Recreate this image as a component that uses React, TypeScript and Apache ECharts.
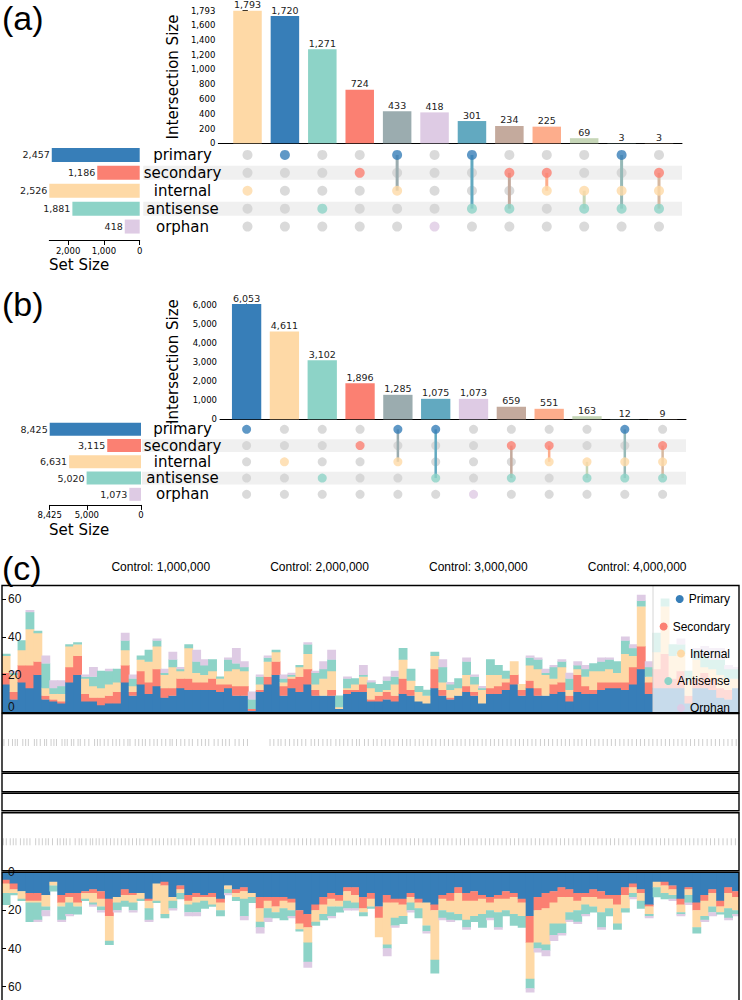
import React, { useEffect, useRef } from "react";
import * as echarts from "echarts";

// ---------- shared ----------
const SETS = ["primary", "secondary", "internal", "antisense", "orphan"];
const LEGEND_NAMES = ["Primary", "Secondary", "Internal", "Antisense", "Orphan"];
const SET_COLORS = ["#377eb8", "#fb8072", "#fed9a6", "#8dd3c7", "#decbe4"];

// ---------- panel (a) ----------
const A_SET_SIZES = [2457, 1186, 2526, 1881, 418];
const A_COMBOS = [[2], [0], [3], [1], [0, 2], [4], [0, 3], [1, 3], [1, 2], [2, 3], [0, 2, 3], [1, 2, 3]];
const A_COUNTS = [1793, 1720, 1271, 724, 433, 418, 301, 234, 225, 69, 3, 3];

// ---------- panel (b) ----------
const B_SET_SIZES = [8425, 3115, 6631, 5020, 1073];
const B_COMBOS = [[0], [2], [3], [1], [0, 2], [0, 3], [4], [1, 3], [1, 2], [2, 3], [0, 2, 3], [1, 2, 3]];
const B_COUNTS = [6053, 4611, 3102, 1896, 1285, 1075, 1073, 659, 551, 163, 12, 9];

// ---------- panel (c) ----------
const GENOME_LENGTH = 4641652;
const BIN_SIZE = 50000;
// top histogram (Primary, Secondary, Internal, Antisense, Orphan) per 50 kb bin
const TOP_PRIMARY = [15, 7, 16, 13, 20, 7, 6, 5, 16, 20, 6, 6, 4, 5, 5, 16, 9, 15, 10, 14, 8, 9, 13, 12, 12, 12, 12, 11, 13, 9, 9,
  1, 11, 15, 20, 9, 13, 11, 15, 9, 9, 9, 2, 10, 11, 11, 6, 6, 7, 6, 10, 9, 6, 5, 13, 9, 7, 9, 11, 9, 5, 10,
  10, 12, 15, 9, 13, 9, 9, 10, 11, 6, 11, 10, 10, 12, 13, 13, 12, 15, 23, 10, 13, 13, 13, 13, 5, 13, 13, 12, 8, 7, 13];
const TOP_SECONDARY = [6, 4, 9, 12, 7, 2, 1, 1, 8, 10, 4, 2, 4, 4, 6, 9, 2, 7, 6, 9, 5, 4, 5, 6, 4, 4, 6, 4, 2, 5, 5,
  1, 1, 4, 7, 5, 5, 8, 8, 3, 0, 3, 0, 2, 1, 4, 1, 3, 4, 3, 8, 3, 0, 0, 10, 3, 1, 0, 3, 2, 0, 3,
  4, 4, 5, 3, 4, 4, 0, 5, 5, 3, 9, 4, 2, 4, 3, 3, 4, 9, 12, 6, 10, 18, 5, 9, 4, 5, 8, 6, 5, 5, 0];
const TOP_INTERNAL = [9, 9, 8, 19, 15, 4, 3, 4, 11, 6, 8, 6, 5, 6, 5, 8, 3, 6, 11, 12, 7, 11, 4, 16, 5, 4, 4, 3, 7, 9, 8,
  0, 3, 8, 5, 2, 1, 5, 8, 3, 9, 10, 1, 1, 3, 4, 6, 2, 1, 6, 10, 5, 5, 4, 7, 4, 4, 4, 6, 4, 7, 7,
  6, 2, 7, 3, 8, 10, 11, 3, 8, 3, 3, 5, 10, 6, 7, 5, 15, 6, 21, 3, 9, 25, 12, 9, 8, 10, 3, 5, 7, 6, 5];
const TOP_ANTISENSE = [1, 1, 5, 9, 1, 13, 3, 4, 1, 1, 1, 5, 9, 7, 7, 5, 4, 2, 6, 3, 1, 4, 1, 2, 6, 5, 6, 1, 6, 3, 2,
  5, 4, 2, 1, 2, 1, 1, 5, 6, 5, 6, 6, 5, 3, 1, 3, 4, 5, 4, 6, 6, 3, 3, 2, 8, 3, 5, 7, 4, 1, 8,
  5, 4, 0, 0, 4, 5, 1, 6, 3, 6, 2, 4, 4, 5, 5, 6, 7, 4, 3, 5, 10, 4, 6, 5, 5, 5, 6, 5, 8, 5, 5];
const TOP_ORPHAN = [0, 1, 0, 1, 0, 4, 4, 3, 0, 0, 1, 5, 0, 1, 0, 4, 2, 0, 0, 1, 2, 4, 1, 0, 6, 3, 0, 0, 1, 8, 3,
  4, 1, 1, 0, 2, 1, 0, 1, 1, 4, 5, 0, 1, 0, 5, 1, 0, 2, 3, 0, 0, 0, 0, 0, 4, 1, 0, 2, 1, 1, 0,
  0, 0, 0, 0, 1, 1, 2, 1, 1, 3, 2, 2, 0, 2, 1, 0, 2, 2, 3, 3, 0, 0, 0, 3, 0, 1, 5, 6, 6, 2, 1];
// bottom histogram (drawn downwards)
const BOT_PRIMARY = [4, 6, 10, 11, 11, 12, 5, 12, 11, 11, 10, 9, 10, 14, 13, 9, 11, 11, 14, 6, 5, 13, 7, 12, 11, 12, 11, 14, 7, 9, 8,
  11, 13, 13, 13, 13, 14, 20, 22, 17, 13, 11, 12, 8, 8, 13, 11, 18, 12, 14, 14, 11, 14, 16, 17, 12, 11, 8, 11, 10, 12, 13,
  12, 10, 11, 14, 23, 13, 11, 10, 8, 9, 11, 11, 9, 10, 12, 12, 8, 6, 9, 17, 5, 5, 7, 14, 8, 16, 12, 9, 15, 8, 10];
const BOT_SECONDARY = [2, 3, 0, 4, 4, 0, 0, 4, 2, 5, 1, 2, 4, 9, 0, 3, 1, 0, 1, 0, 2, 0, 2, 3, 2, 1, 2, 2, 0, 2, 2,
  0, 6, 2, 5, 2, 2, 7, 7, 3, 4, 3, 3, 2, 4, 6, 3, 6, 4, 2, 3, 2, 2, 0, 3, 2, 4, 3, 4, 5, 2, 3,
  2, 4, 2, 2, 14, 7, 8, 6, 5, 4, 4, 2, 4, 4, 2, 5, 4, 2, 2, 1, 0, 2, 2, 3, 1, 4, 3, 2, 3, 3, 3];
const BOT_INTERNAL = [5, 2, 4, 1, 1, 6, 2, 2, 3, 2, 3, 5, 4, 13, 3, 3, 4, 3, 4, 9, 15, 2, 2, 2, 3, 2, 4, 4, 2, 2, 4,
  2, 7, 4, 3, 4, 4, 3, 8, 6, 5, 4, 3, 5, 4, 2, 4, 10, 22, 8, 6, 3, 3, 12, 26, 6, 6, 11, 10, 8, 8, 4,
  7, 6, 9, 7, 19, 17, 19, 11, 14, 8, 5, 4, 5, 7, 5, 10, 7, 3, 4, 4, 3, 4, 3, 4, 3, 9, 8, 7, 3, 8, 7];
const BOT_ANTISENSE = [6, 1, 1, 10, 9, 2, 3, 7, 6, 4, 1, 1, 2, 2, 4, 3, 4, 1, 6, 1, 2, 4, 3, 4, 5, 4, 1, 3, 2, 2, 9,
  3, 3, 5, 3, 6, 3, 1, 10, 2, 3, 5, 3, 4, 3, 2, 1, 0, 2, 4, 4, 4, 5, 3, 7, 4, 4, 3, 4, 3, 7, 4,
  8, 3, 6, 6, 5, 3, 3, 6, 5, 4, 6, 5, 3, 8, 4, 3, 2, 2, 4, 1, 5, 3, 2, 1, 4, 3, 2, 3, 1, 5, 2];
const BOT_ORPHAN = [0, 0, 0, 0, 1, 3, 0, 1, 1, 0, 0, 1, 1, 0, 1, 0, 1, 0, 1, 0, 0, 1, 0, 2, 2, 0, 0, 0, 1, 0, 2,
  0, 3, 2, 0, 0, 1, 0, 3, 0, 0, 1, 0, 1, 1, 0, 0, 0, 4, 1, 0, 1, 0, 1, 0, 1, 1, 0, 1, 0, 0, 1,
  1, 0, 0, 0, 2, 2, 3, 3, 1, 1, 1, 1, 0, 1, 0, 0, 0, 1, 0, 1, 0, 0, 1, 1, 1, 0, 1, 2, 0, 1, 1];
// gene marks in the two annotation tracks (kb)
const TRACK1_GENES = [12, 41, 66, 83, 97, 131, 149, 166, 204, 219, 241, 268, 281, 309, 327, 343, 378, 396, 411, 437, 452, 479, 493,
  521, 547, 583, 601, 618, 644, 668, 697, 719, 741, 768, 793, 806, 839, 861, 884, 903, 931, 957, 978, 1006, 1031, 1058, 1072,
  1099, 1126, 1151, 1178, 1199, 1233, 1257, 1281, 1302, 1336, 1361, 1388, 1409, 1432, 1468, 1493, 1521, 1546, 1688, 1712,
  1739, 1757, 1784, 1811, 1839, 1862, 1888, 1913, 1947, 1969, 1993, 2021, 2048, 2071, 2103, 2127, 2152, 2178, 2206, 2233,
  2251, 2283, 2307, 2339, 2362, 2391, 2414, 2442, 2468, 2497, 2522, 2549, 2571, 2602, 2628, 2653, 2681, 2707, 2732, 2761,
  2786, 2812, 2839, 2866, 2891, 2917, 2946, 2971, 2997, 3024, 3048, 3077, 3101, 3128, 3153, 3181, 3206, 3233, 3259, 3284,
  3311, 3338, 3362, 3391, 3417, 3442, 3468, 3497, 3523, 3548, 3574, 3603, 3628, 3652, 3681, 3707, 3734, 3759, 3786, 3812,
  3838, 3863, 3891, 3917, 3944, 3968, 3996, 4021, 4047, 4074, 4099, 4126, 4152, 4178, 4204, 4231, 4257, 4283, 4309, 4336,
  4362, 4388, 4413, 4441, 4467, 4493, 4519, 4546, 4572, 4598, 4624];
const TRACK4_GENES = [8, 27, 52, 71, 88, 116, 138, 157, 176, 212, 233, 254, 276, 292, 318, 349, 366, 388, 405, 428, 461, 486, 502,
  529, 556, 571, 593, 612, 636, 659, 683, 706, 729, 752, 776, 799, 822, 847, 868, 893, 918, 946, 968, 991, 1017, 1044, 1066,
  1089, 1113, 1139, 1164, 1188, 1212, 1241, 1266, 1292, 1318, 1343, 1371, 1396, 1422, 1447, 1473, 1499, 1528, 1553, 1579,
  1604, 1631, 1657, 1682, 1707, 1733, 1762, 1788, 1813, 1841, 1866, 1893, 1918, 1944, 1971, 1997, 2023, 2049, 2076, 2101,
  2128, 2154, 2181, 2207, 2232, 2258, 2286, 2311, 2337, 2363, 2389, 2416, 2441, 2468, 2494, 2519, 2546, 2572, 2598, 2624,
  2651, 2677, 2703, 2729, 2756, 2782, 2808, 2834, 2861, 2887, 2913, 2939, 2966, 2992, 3018, 3044, 3071, 3097, 3123, 3149,
  3176, 3202, 3228, 3254, 3281, 3307, 3333, 3359, 3386, 3412, 3438, 3464, 3491, 3517, 3543, 3569, 3596, 3622, 3648, 3674,
  3701, 3727, 3753, 3779, 3806, 3832, 3858, 3884, 3911, 3937, 3963, 3989, 4016, 4042, 4068, 4094, 4121, 4147, 4173, 4199,
  4226, 4252, 4278, 4304, 4331, 4357, 4383, 4409, 4436, 4462, 4488, 4514, 4541, 4567, 4593, 4619];

// ---------- helpers ----------
const fmt = (v: number) => Math.round(v).toLocaleString("en-US");
function hexToRgb(h: string) {
  const n = parseInt(h.slice(1), 16);
  return [(n >> 16) & 255, (n >> 8) & 255, n & 255];
}
function mix(idx: number[]) {
  const cs = idx.map((i) => hexToRgb(SET_COLORS[i]));
  const avg = [0, 1, 2].map((k) => Math.round(cs.reduce((s, c) => s + c[k], 0) / cs.length));
  return "#" + avg.map((v) => v.toString(16).padStart(2, "0")).join("");
}

const UPSET_FONT = "DejaVu Sans";
const C_FONT = "Liberation Sans";

type UpsetLayout = {
  barTop: number; barBottom: number; axisX: number; right: number; firstCenter: number; step: number;
  barWidth: number; matLeft: number; matTop: number; matHeight: number; setLeft: number; setRight: number;
  setBarH: number; setAxisOffset: number; dot: number; lineW: number; bandH: number; nameGap: number;
  yInterval: number; showMax: boolean; setInterval: number; setShowMax: boolean;
};

function buildUpset(
  L: UpsetLayout, counts: number[], combos: number[][], setSizes: number[], gi: number
) {
  const grids = [
    { left: L.axisX, top: L.barTop, width: L.right - L.axisX, height: L.barBottom - L.barTop },
    { left: L.matLeft, top: L.matTop, width: L.right - L.matLeft, height: L.matHeight },
    { left: L.setLeft, top: L.matTop, width: L.setRight - L.setLeft, height: L.matHeight },
  ];
  const toIdx = (x: number) => (x - L.firstCenter) / L.step;
  const maxCount = Math.max(...counts);
  const maxSet = Math.max(...setSizes);
  const axisLabelStyle = { fontFamily: UPSET_FONT, fontSize: 8.5, color: "#000" };
  const xAxes = [
    {
      gridIndex: gi, type: "value", min: toIdx(L.axisX), max: toIdx(L.right),
      axisLine: { show: true, lineStyle: { color: "#000", width: 1 } },
      axisTick: { show: false }, axisLabel: { show: false }, splitLine: { show: false },
    },
    { gridIndex: gi + 1, type: "value", min: toIdx(L.matLeft), max: toIdx(L.right), show: false },
    {
      gridIndex: gi + 2, type: "value", inverse: true, min: 0, max: maxSet, interval: L.setInterval,
      offset: L.setAxisOffset,
      axisLine: { show: true, lineStyle: { color: "#000" } },
      axisTick: { show: true, length: 5, lineStyle: { color: "#000" } },
      axisLabel: { ...axisLabelStyle, margin: 6, showMaxLabel: L.setShowMax, formatter: (v: number) => fmt(v) },
      splitLine: { show: false },
    },
  ];
  const yAxes = [
    {
      gridIndex: gi, type: "value", min: 0, max: maxCount, interval: L.yInterval,
      name: "Intersection Size", nameLocation: "middle", nameRotate: 90, nameGap: L.nameGap,
      nameTextStyle: { fontFamily: UPSET_FONT, fontSize: 15, color: "#000" },
      axisLine: { show: true, lineStyle: { color: "#000" } },
      axisTick: { show: true, length: 5, lineStyle: { color: "#000" } },
      axisLabel: { ...axisLabelStyle, margin: 3, showMaxLabel: L.showMax, formatter: (v: number) => fmt(v) },
      splitLine: { show: false },
    },
    {
      gridIndex: gi + 1, type: "category", inverse: true, data: SETS, z: 6,
      axisLine: { show: false }, axisTick: { show: false }, splitLine: { show: false },
      axisLabel: {
        inside: true, align: "center", margin: 182.5 - L.matLeft, interval: 0, hideOverlap: false,
        fontFamily: UPSET_FONT, fontSize: 15, color: "#000",
      },
    },
    { gridIndex: gi + 2, type: "category", inverse: true, data: SETS, show: false },
  ];
  const comboColors = combos.map((c) => mix(c));
  const grayDots: number[][] = [];
  const activeDots: any[] = [];
  const lines: number[][] = [];
  combos.forEach((c, i) => {
    SETS.forEach((_, j) => {
      if (c.includes(j)) activeDots.push({ value: [i, j], itemStyle: { color: SET_COLORS[j] } });
      else grayDots.push([i, j]);
    });
    if (c.length > 1) lines.push([i, Math.min(...c), Math.max(...c)]);
  });
  const lineColors = lines.map((l) => comboColors[l[0]]);
  const series = [
    {
      type: "bar", xAxisIndex: gi, yAxisIndex: gi,
      barWidth: L.barWidth,
      data: counts.map((v, i) => ({ value: [i, v], itemStyle: { color: comboColors[i] } })),
      label: {
        show: true, position: "top", distance: 1, fontFamily: UPSET_FONT, fontSize: 9.5, color: "#222",
        formatter: (p: any) => fmt(p.value[1]),
      },
    },
    {
      type: "scatter", xAxisIndex: gi + 1, yAxisIndex: gi + 1, z: 2,
      symbolSize: L.dot, itemStyle: { color: "#d1d1d1" }, data: grayDots,
    },
    {
      type: "custom", xAxisIndex: gi + 1, yAxisIndex: gi + 1, z: 3,
      data: lines,
      renderItem: (params: any, api: any) => {
        const p1 = api.coord([api.value(0), api.value(1)]);
        const p2 = api.coord([api.value(0), api.value(2)]);
        return {
          type: "line",
          shape: { x1: p1[0], y1: p1[1], x2: p2[0], y2: p2[1] },
          style: { stroke: lineColors[params.dataIndex], lineWidth: L.lineW },
        };
      },
    },
    {
      type: "scatter", xAxisIndex: gi + 1, yAxisIndex: gi + 1, z: 4,
      symbolSize: L.dot, data: activeDots,
    },
    {
      type: "bar", xAxisIndex: gi + 2, yAxisIndex: gi + 2, barWidth: L.setBarH,
      data: setSizes.map((v, j) => ({ value: v, itemStyle: { color: SET_COLORS[j] } })),
      label: {
        show: true, position: "left", distance: 2, fontFamily: UPSET_FONT, fontSize: 9.5, color: "#222",
        formatter: (p: any) => fmt(p.value),
      },
    },
  ];
  // shaded rows (secondary, antisense)
  const rowH = L.matHeight / SETS.length;
  const bands = [1, 3].map((j) => ({
    type: "rect", z: -10,
    shape: { x: L.matLeft, y: L.matTop + rowH * (j + 0.5) - L.bandH / 2, width: L.right - L.matLeft, height: L.bandH },
    style: { fill: "#f0f0f0" },
  }));
  return { grids, xAxes, yAxes, series, bands };
}

const A_LAYOUT: UpsetLayout = {
  barTop: 10.7, barBottom: 143.3, axisX: 218.3, right: 682, firstCenter: 247.5, step: 37.41, barWidth: 28.5,
  matLeft: 143.3, matTop: 146, matHeight: 89.5, setLeft: 49.3, setRight: 139.7, setBarH: 14, setAxisOffset: 4.5,
  dot: 10, lineW: 3, bandH: 14, nameGap: 35, yInterval: 200, showMax: true, setInterval: 1000, setShowMax: false,
};
const B_LAYOUT: UpsetLayout = {
  barTop: 304, barBottom: 419.3, axisX: 220, right: 686, firstCenter: 246.6, step: 37.82, barWidth: 29.3,
  matLeft: 142, matTop: 421.2, matHeight: 81.25, setLeft: 49.7, setRight: 141, setBarH: 13, setAxisOffset: 2.5,
  dot: 9, lineW: 2.5, bandH: 12.7, nameGap: 40, yInterval: 1000, showMax: false, setInterval: 5000, setShowMax: true,
};

const C_LEFT = 2;
const C_WIDTH = 737;
const C_TOP = { top: 585.5, bottom: 712.7 };
const C_TRACKS = [
  { top: 713.5, bottom: 771.7 },
  { top: 773.3, bottom: 791.7 },
  { top: 793.3, bottom: 810.7 },
  { top: 812.7, bottom: 870.7 },
];
const C_BOT = { top: 872.3, bottom: 1004 };

function buildOption() {
  const a = buildUpset(A_LAYOUT, A_COUNTS, A_COMBOS, A_SET_SIZES, 0);
  const b = buildUpset(B_LAYOUT, B_COUNTS, B_COMBOS, B_SET_SIZES, 3);

  const cGrids = [
    { left: C_LEFT, top: C_TOP.top, width: C_WIDTH, height: C_TOP.bottom - C_TOP.top },
    { left: C_LEFT, top: C_TRACKS[0].top, width: C_WIDTH, height: C_TRACKS[0].bottom - C_TRACKS[0].top },
    { left: C_LEFT, top: C_TRACKS[3].top, width: C_WIDTH, height: C_TRACKS[3].bottom - C_TRACKS[3].top },
    { left: C_LEFT, top: C_BOT.top, width: C_WIDTH, height: C_BOT.bottom - C_BOT.top },
  ];
  const hiddenX = (gridIndex: number) => ({ gridIndex, type: "value", min: 0, max: GENOME_LENGTH, show: false });
  const cX = [
    {
      gridIndex: 6, type: "value", position: "top", min: 0, max: GENOME_LENGTH, interval: 1000000,
      axisLine: { show: false },
      axisTick: { show: true, length: 7, lineStyle: { color: "#000" } },
      axisLabel: {
        margin: 13, fontFamily: C_FONT, fontSize: 12, color: "#000", showMinLabel: false, showMaxLabel: false,
        formatter: (v: number) => (v === 0 ? "" : "Control: " + fmt(v)),
      },
      splitLine: { show: false },
    },
    hiddenX(7), hiddenX(8), hiddenX(9),
  ];
  const yHist = (gridIndex: number, inverse: boolean) => ({
    gridIndex, type: "value", min: 0, max: 67, interval: 20, inverse, z: 5,
    axisLine: { show: false },
    axisTick: { show: true, inside: true, length: 4, lineStyle: { color: "#000" } },
    axisLabel: {
      inside: true, margin: 6, fontFamily: C_FONT, fontSize: 12, color: "#111", showMaxLabel: false,
      // the top panel's zero label sits just above the baseline
      formatter: (v: number) => (v === 0 && !inverse ? "{z|0}" : "{n|" + v + "}"),
      rich: {
        z: { fontFamily: C_FONT, fontSize: 12, color: "#111", padding: [0, 0, 11, 0] },
        n: { fontFamily: C_FONT, fontSize: 12, color: "#111" },
      },
    },
    splitLine: { show: false },
  });
  const cY = [
    yHist(6, false),
    { gridIndex: 7, type: "value", min: 0, max: 1, show: false },
    { gridIndex: 8, type: "value", min: 0, max: 1, show: false },
    yHist(9, true),
  ];
  const topSets = [TOP_PRIMARY, TOP_SECONDARY, TOP_INTERNAL, TOP_ANTISENSE, TOP_ORPHAN];
  const botSets = [BOT_PRIMARY, BOT_SECONDARY, BOT_INTERNAL, BOT_ANTISENSE, BOT_ORPHAN];
  // stacked histogram drawn through the axes' scales (custom series)
  const histSeries = (arrs: number[][], xi: number) => {
    const rows: number[][] = [];
    for (let k = 0; k < arrs[0].length; k++) {
      let base = 0;
      for (let j = 0; j < arrs.length; j++) {
        const v = arrs[j][k];
        if (v > 0) rows.push([k * BIN_SIZE, Math.min((k + 1) * BIN_SIZE, GENOME_LENGTH), base, base + v, j]);
        base += v;
      }
    }
    return {
      type: "custom", xAxisIndex: xi, yAxisIndex: xi, clip: true, z: 2,
      encode: { x: [0, 1], y: [2, 3] },
      data: rows,
      renderItem: (_params: any, api: any) => {
        const p1 = api.coord([api.value(0), api.value(2)]);
        const p2 = api.coord([api.value(1), api.value(3)]);
        return {
          type: "rect",
          shape: {
            x: Math.min(p1[0], p2[0]) - 0.3, y: Math.min(p1[1], p2[1]) - 0.2,
            width: Math.abs(p2[0] - p1[0]) + 0.9, height: Math.abs(p2[1] - p1[1]) + 0.4,
          },
          style: { fill: SET_COLORS[api.value(4)] },
        };
      },
    };
  };
  const geneSeries = (arr: number[], xi: number) => ({
    type: "scatter", xAxisIndex: xi, yAxisIndex: xi, symbol: "rect", symbolSize: [1, 7],
    itemStyle: { color: "#c2c2c2" }, data: arr.map((p) => [p * 1000, 0.5]),
  });

  // legend (graphic)
  const canvas = document.createElement("canvas");
  const ctx = canvas.getContext("2d")!;
  ctx.font = `12px '${C_FONT}'`;
  const legendYs = [599, 626.5, 653.5, 681, 708];
  const legendRight = 730;
  const legendEls: any[] = [
    {
      type: "rect", z: 10, shape: { x: 653, y: C_TOP.top, width: 86, height: C_TOP.bottom - C_TOP.top },
      style: { fill: "rgba(255,255,255,0.72)" },
    },
    {
      type: "line", z: 10, shape: { x1: 653, y1: C_TOP.top, x2: 653, y2: C_TOP.bottom },
      style: { stroke: "#d6d6d6", lineWidth: 1 },
    },
  ];
  LEGEND_NAMES.forEach((n, j) => {
    const w = ctx.measureText(n).width;
    legendEls.push({
      type: "circle", z: 11, shape: { cx: legendRight - w - 9, cy: legendYs[j], r: 4 },
      style: { fill: SET_COLORS[j] },
    });
    legendEls.push({
      type: "text", z: 11, x: legendRight, y: legendYs[j],
      style: { text: n, fontFamily: C_FONT, fontSize: 12, fill: "#000", align: "right", verticalAlign: "middle" },
    });
  });
  legendEls.push({
    type: "rect", z: 12, shape: { x: 653, y: C_TRACKS[0].top, width: 86, height: 10 }, style: { fill: "#fff" },
  });

  const boxes = [C_TOP, ...C_TRACKS, C_BOT].map((r) => ({
    type: "rect", z: 20,
    shape: { x: C_LEFT, y: r.top, width: C_WIDTH, height: r.bottom - r.top },
    style: { fill: "none", stroke: "#000", lineWidth: 1.4 },
  }));

  const texts = [
    { t: "(a)", y: 17.5 }, { t: "(b)", y: 304 }, { t: "(c)", y: 567.5 },
  ].map((o) => ({
    type: "text", z: 5, x: 2, y: o.y,
    style: { text: o.t, fontFamily: C_FONT, fontSize: 34, fill: "#000", verticalAlign: "middle" },
  }));
  const setSizeTitles = [265, 530].map((y) => ({
    type: "text", z: 5, x: 49, y,
    style: { text: "Set Size", fontFamily: UPSET_FONT, fontSize: 15, fill: "#000", verticalAlign: "middle" },
  }));

  return {
    animation: false,
    backgroundColor: "#fff",
    grid: [...a.grids, ...b.grids, ...cGrids],
    xAxis: [...a.xAxes, ...b.xAxes, ...cX],
    yAxis: [...a.yAxes, ...b.yAxes, ...cY],
    series: [
      ...a.series, ...b.series,
      histSeries(topSets, 6),
      geneSeries(TRACK1_GENES, 7),
      geneSeries(TRACK4_GENES, 8),
      histSeries(botSets, 9),
    ],
    graphic: [...a.bands, ...b.bands, ...texts, ...setSizeTitles, ...legendEls, ...boxes],
  };
}

export default function App() {
  const ref = useRef<HTMLDivElement>(null);
  useEffect(() => {
    document.body.style.margin = "0";
    if (!ref.current) return;
    const chart = echarts.init(ref.current, undefined, { renderer: "svg" });
    chart.setOption(buildOption() as any);
    return () => chart.dispose();
  }, []);
  return <div ref={ref} style={{ width: 742, height: 1000 }} />;
}
